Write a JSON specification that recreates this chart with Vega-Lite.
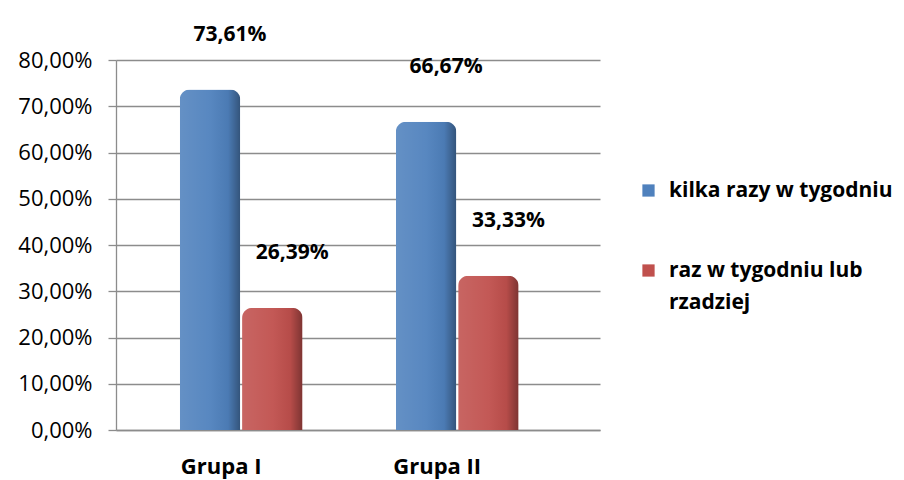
{
  "$schema": "https://vega.github.io/schema/vega-lite/v6.json",
  "autosize": "none",
  "width": 484,
  "height": 370,
  "padding": {"left": 116, "top": 60, "right": 304, "bottom": 50},
  "background": "white",
  "config": {
    "font": "Open Sans",
    "view": {"stroke": null},
    "style": {"guide-label": {"lineHeight": 32}}
  },
  "data": {
    "values": [
      {"grupa": "Grupa I", "kat": "kilka razy w tygodniu", "v": 0.7361},
      {"grupa": "Grupa I", "kat": "raz w tygodniu lub rzadziej", "v": 0.2639},
      {"grupa": "Grupa II", "kat": "kilka razy w tygodniu", "v": 0.6667},
      {"grupa": "Grupa II", "kat": "raz w tygodniu lub rzadziej", "v": 0.3333}
    ]
  },
  "encoding": {
    "x": {
      "field": "grupa", "type": "nominal", "sort": null,
      "scale": {"paddingInner": 0, "paddingOuter": 0.12, "align": 0.33},
      "axis": {
        "title": null, "labelAngle": 0, "ticks": false, "domain": true,
        "domainColor": "#8c8c8c", "domainWidth": 1.3,
        "labelOffset": -20, "labelPadding": 26,
        "labelFontSize": 22, "labelFontWeight": "bold", "labelColor": "#000000"
      }
    },
    "xOffset": {
      "field": "kat", "type": "nominal", "sort": null,
      "scale": {"paddingInner": 0.03, "paddingOuter": 0.75}
    },
    "y": {
      "field": "v", "type": "quantitative",
      "scale": {"domain": [0, 0.8], "nice": false},
      "axis": {
        "title": null,
        "values": [0, 0.1, 0.2, 0.3, 0.4, 0.5, 0.6, 0.7, 0.8],
        "labelExpr": "replace(format(datum.value, '.2%'), '.', ',')",
        "grid": true, "gridColor": "#8c8c8c", "gridWidth": 1.3,
        "domain": true, "domainColor": "#8c8c8c", "domainWidth": 1.3,
        "tickColor": "#8c8c8c", "tickSize": 8, "tickWidth": 1.3,
        "labelPadding": 16, "labelFontSize": 22, "labelColor": "#000000"
      }
    }
  },
  "layer": [
    {
      "mark": {"type": "bar", "cornerRadiusTopLeft": 10, "cornerRadiusTopRight": 10},
      "encoding": {
        "color": {
          "field": "kat", "type": "nominal", "sort": null,
          "scale": {
            "domain": ["kilka razy w tygodniu", "raz w tygodniu lub rzadziej"],
            "range": ["#4F81BD", "#C0504D"]
          },
          "legend": {
            "title": null, "orient": "none", "legendX": 522, "legendY": 120,
            "symbolType": "square", "symbolSize": 150, "symbolStrokeWidth": 0,
            "labelFontSize": 21, "labelFontWeight": "bold", "labelColor": "#000000",
            "labelOffset": 10, "rowPadding": 58, "labelLimit": 320,
            "labelExpr": "datum.label == 'raz w tygodniu lub rzadziej' ? ['raz w tygodniu lub', 'rzadziej'] : datum.label"
          }
        }
      }
    },
    {
      "mark": {
        "type": "bar", "cornerRadiusTopLeft": 10, "cornerRadiusTopRight": 10,
        "fill": {
          "gradient": "linear", "x1": 0, "y1": 0, "x2": 1, "y2": 0,
          "stops": [
            {"offset": 0, "color": "rgba(255,255,255,0.12)"},
            {"offset": 0.5, "color": "rgba(255,255,255,0.05)"},
            {"offset": 0.8, "color": "rgba(0,0,0,0.05)"},
            {"offset": 1, "color": "rgba(0,0,0,0.35)"}
          ]
        }
      }
    },
    {
      "transform": [
        {"calculate": "replace(format(datum.v, '.2%'), '.', ',')", "as": "label"}
      ],
      "mark": {"type": "text", "dy": -55, "dx": 20, "fontSize": 21, "fontWeight": "bold", "color": "#000000"},
      "encoding": {"text": {"field": "label"}}
    }
  ]
}
